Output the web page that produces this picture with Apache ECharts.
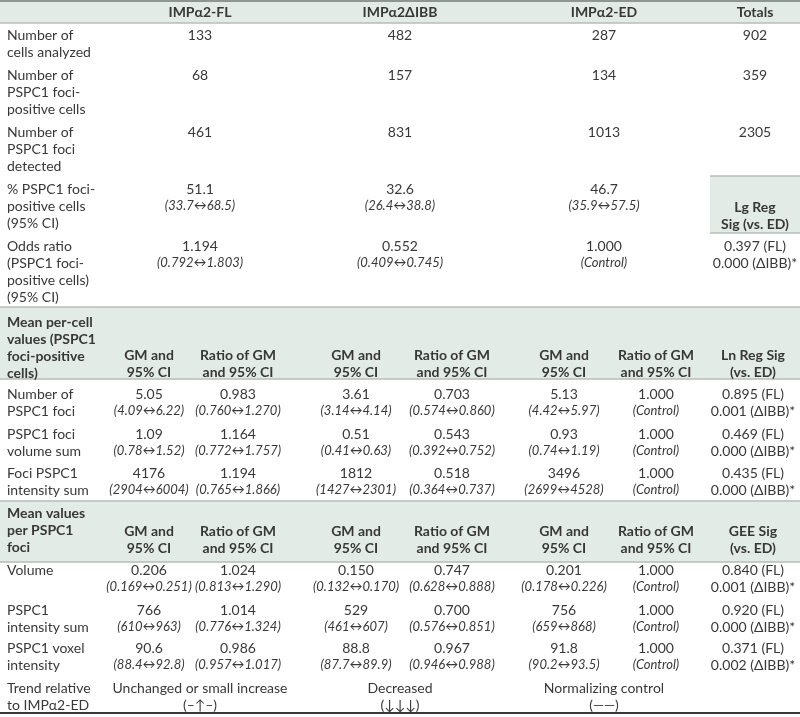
<!DOCTYPE html>
<html>
<head>
<meta charset="utf-8">
<script src="https://cdn.jsdelivr.net/npm/echarts@6/dist/echarts.min.js"></script>
<style>html,body{margin:0;padding:0;background:#fff}#c{width:800px;height:717px}</style>
</head>
<body>
<div id="c"></div>
<script>
// ---------- DATA ----------
const groups = ['IMPα2-FL', 'IMPα2ΔIBB', 'IMPα2-ED'];
const totalsLabel = 'Totals';
const cellsAnalyzed = [133, 482, 287, 902];
const fociPositiveCells = [68, 157, 134, 359];
const fociDetected = [461, 831, 1013, 2305];
const pctPositive = [51.1, 32.6, 46.7];
const pctPositiveCI = [[33.7, 68.5], [26.4, 38.8], [35.9, 57.5]];
const oddsRatio = [1.194, 0.552, 1.000];
const oddsRatioCI = [[0.792, 1.803], [0.409, 0.745], null];
const lgRegSig = [0.397, 0.000];

// mean per-cell values
const numFociGM = [5.05, 3.61, 5.13];
const numFociGMCI = [[4.09, 6.22], [3.14, 4.14], [4.42, 5.97]];
const numFociRatio = [0.983, 0.703, 1.000];
const numFociRatioCI = [[0.760, 1.270], [0.574, 0.860], null];
const numFociSig = [0.895, 0.001];

const volSumGM = [1.09, 0.51, 0.93];
const volSumGMCI = [[0.78, 1.52], [0.41, 0.63], [0.74, 1.19]];
const volSumRatio = [1.164, 0.543, 1.000];
const volSumRatioCI = [[0.772, 1.757], [0.392, 0.752], null];
const volSumSig = [0.469, 0.000];

const intSumGM = [4176, 1812, 3496];
const intSumGMCI = [[2904, 6004], [1427, 2301], [2699, 4528]];
const intSumRatio = [1.194, 0.518, 1.000];
const intSumRatioCI = [[0.765, 1.866], [0.364, 0.737], null];
const intSumSig = [0.435, 0.000];

// mean values per foci
const volumeGM = [0.206, 0.150, 0.201];
const volumeGMCI = [[0.169, 0.251], [0.132, 0.170], [0.178, 0.226]];
const volumeRatio = [1.024, 0.747, 1.000];
const volumeRatioCI = [[0.813, 1.290], [0.628, 0.888], null];
const volumeSig = [0.840, 0.001];

const fociIntGM = [766, 529, 756];
const fociIntGMCI = [[610, 963], [461, 607], [659, 868]];
const fociIntRatio = [1.014, 0.700, 1.000];
const fociIntRatioCI = [[0.776, 1.324], [0.576, 0.851], null];
const fociIntSig = [0.920, 0.000];

const voxelGM = [90.6, 88.8, 91.8];
const voxelGMCI = [[88.4, 92.8], [87.7, 89.9], [90.2, 93.5]];
const voxelRatio = [0.986, 0.967, 1.000];
const voxelRatioCI = [[0.957, 1.017], [0.946, 0.988], null];
const voxelSig = [0.371, 0.002];

const trendText = ['Unchanged or small increase', 'Decreased', 'Normalizing control'];
const trendSymbol = ['(–↑–)', '(↓↓↓)', '(——)'];
const sigLabels = ['(FL)', '(ΔIBB)*'];

// ---------- LAYOUT ----------
const W = 800, H = 717;
const LH = 17.3;
const labelX = 7;
const top4 = [200, 400, 604, 755];              // section 1 column centres
const cols7 = [149, 238, 356, 452, 564, 656, 753]; // lower section column centres
const TXT = '#383838';
const BAND = '#e3ebe6';
const FONT = 'Lato, "Open Sans", "DejaVu Sans", sans-serif';
const FS = 14;
const FS_CI = 13;

const texts = [];   // {x,y,t,b,i,a}
function T(x, y, t, opt) { texts.push(Object.assign({ x, y, t, b: false, i: false, a: 'center' }, opt || {})); }
function label(lines, y, bold) { lines.forEach((l, k) => T(labelX, y + k * LH, l, { a: 'left', b: !!bold })); }
function f(v, d) { return v.toFixed(d); }
function ci(c, d) { return c ? '(' + f(c[0], d) + '↔' + f(c[1], d) + ')' : '(Control)'; }
function sig(s, x, y) { s.forEach((v, k) => T(x, y + k * LH, f(v, 3) + ' ' + sigLabels[k])); }

// header
groups.forEach((g, k) => T(top4[k], 12, g, { b: true }));
T(top4[3], 12, totalsLabel, { b: true });

// section 1
let y = 35;
label(['Number of', 'cells analyzed'], y);
cellsAnalyzed.forEach((v, k) => T(top4[k], y, String(v)));
y = 75;
label(['Number of', 'PSPC1 foci-', 'positive cells'], y);
fociPositiveCells.forEach((v, k) => T(top4[k], y, String(v)));
y = 132;
label(['Number of', 'PSPC1 foci', 'detected'], y);
fociDetected.forEach((v, k) => T(top4[k], y, String(v)));
y = 189;
label(['% PSPC1 foci-', 'positive cells', '(95% CI)'], y);
pctPositive.forEach((v, k) => { T(top4[k], y, f(v, 1)); T(top4[k], y + LH, ci(pctPositiveCI[k], 1), { i: true }); });
T(top4[3], 207, 'Lg Reg', { b: true });
T(top4[3], 224, 'Sig (vs. ED)', { b: true });
y = 246;
label(['Odds ratio', '(PSPC1 foci-', 'positive cells)', '(95% CI)'], y);
oddsRatio.forEach((v, k) => { T(top4[k], y, f(v, 3)); T(top4[k], y + LH, ci(oddsRatioCI[k], 3), { i: true }); });
sig(lgRegSig, top4[3], y);

// section 2
function colHeads(y, sigHead) {
  for (let k = 0; k < 3; k++) {
    T(cols7[2 * k], y, 'GM and', { b: true }); T(cols7[2 * k], y + LH, '95% CI', { b: true });
    T(cols7[2 * k + 1], y, 'Ratio of GM', { b: true }); T(cols7[2 * k + 1], y + LH, 'and 95% CI', { b: true });
  }
  T(cols7[6], y, sigHead[0], { b: true }); T(cols7[6], y + LH, sigHead[1], { b: true });
}
function dataRow(y, lines, gm, gmci, gd, ratio, rci, s) {
  label(lines, y);
  for (let k = 0; k < 3; k++) {
    T(cols7[2 * k], y, f(gm[k], gd)); T(cols7[2 * k], y + LH, ci(gmci[k], gd), { i: true });
    T(cols7[2 * k + 1], y, f(ratio[k], 3)); T(cols7[2 * k + 1], y + LH, ci(rci[k], 3), { i: true });
  }
  sig(s, cols7[6], y);
}
label(['Mean per-cell', 'values (PSPC1', 'foci-positive', 'cells)'], 322, true);
colHeads(355, ['Ln Reg Sig', '(vs. ED)']);
dataRow(394, ['Number of', 'PSPC1 foci'], numFociGM, numFociGMCI, 2, numFociRatio, numFociRatioCI, numFociSig);
dataRow(434, ['PSPC1 foci', 'volume sum'], volSumGM, volSumGMCI, 2, volSumRatio, volSumRatioCI, volSumSig);
dataRow(473, ['Foci PSPC1', 'intensity sum'], intSumGM, intSumGMCI, 0, intSumRatio, intSumRatioCI, intSumSig);

// section 3
label(['Mean values', 'per PSPC1', 'foci'], 513, true);
colHeads(531, ['GEE Sig', '(vs. ED)']);
dataRow(570, ['Volume'], volumeGM, volumeGMCI, 3, volumeRatio, volumeRatioCI, volumeSig);
dataRow(610, ['PSPC1', 'intensity sum'], fociIntGM, fociIntGMCI, 0, fociIntRatio, fociIntRatioCI, fociIntSig);
dataRow(648, ['PSPC1 voxel', 'intensity'], voxelGM, voxelGMCI, 1, voxelRatio, voxelRatioCI, voxelSig);
label(['Trend relative', 'to IMPα2-ED'], 688);
trendText.forEach((t, k) => { T(top4[k], 688, t); T(top4[k], 688 + LH, trendSymbol[k]); });

// rectangles & rules: [x1,y1,x2,y2,kind]
const shapes = [
  [0, 1, W, 23, 'band'],
  [0, 307, W, 379, 'band'],
  [0, 501, W, 562, 'band'],
  [710, 176, W, 233, 'band'],
  [0, 1, W, 1, 'ruleDark'],
  [0, 23, W, 23, 'rule'],
  [710, 176, W, 176, 'rule'],
  [710, 233, W, 233, 'rule'],
  [0, 307, W, 307, 'rule'],
  [0, 379, W, 379, 'rule'],
  [0, 501, W, 501, 'rule'],
  [0, 562, W, 562, 'rule'],
  [0, 713, W, 713, 'ruleBottom']
];

const chart = echarts.init(document.getElementById('c'), null, { renderer: 'canvas' });
chart.setOption({
  animation: false,
  backgroundColor: '#ffffff',
  grid: { left: 0, right: 0, top: 0, bottom: 0 },
  xAxis: { type: 'value', min: 0, max: W, show: false },
  yAxis: { type: 'value', min: 0, max: H, inverse: true, show: false },
  series: [
    {
      type: 'custom', silent: true, z: 1,
      data: shapes.map(s => [s[0], s[1], s[2], s[3]]),
      renderItem: function (params, api) {
        const s = shapes[params.dataIndex];
        const p1 = api.coord([api.value(0), api.value(1)]);
        const p2 = api.coord([api.value(2), api.value(3)]);
        if (s[4] === 'band') {
          return { type: 'rect', shape: { x: p1[0], y: p1[1], width: p2[0] - p1[0], height: p2[1] - p1[1] }, style: { fill: BAND } };
        }
        const st = s[4] === 'ruleDark' ? { stroke: '#8f9591', lineWidth: 2 }
          : s[4] === 'ruleBottom' ? { stroke: '#3a3a3a', lineWidth: 2 }
          : { stroke: '#b7bcb9', lineWidth: 1.5 };
        return { type: 'line', shape: { x1: p1[0], y1: p1[1], x2: p2[0], y2: p2[1] }, style: st, z2: 5 };
      }
    },
    {
      type: 'custom', silent: true, z: 2,
      data: texts.map(d => [d.x, d.y]),
      renderItem: function (params, api) {
        const d = texts[params.dataIndex];
        const p = api.coord([api.value(0), api.value(1)]);
        const size = d.i ? FS_CI : FS;
        return {
          type: 'text', x: p[0], y: p[1],
          style: {
            text: d.t, fill: TXT, font: (d.i ? 'italic ' : '') + (d.b ? 'bold ' : '') + size + 'px ' + FONT,
            align: d.a, verticalAlign: 'middle'
          }
        };
      }
    }
  ]
});
</script>
</body>
</html>
